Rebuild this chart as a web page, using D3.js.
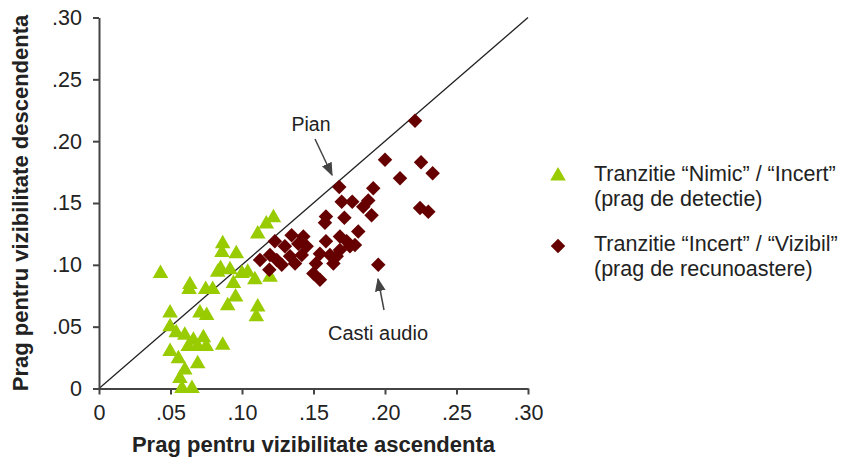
<!DOCTYPE html>
<html>
<head>
<meta charset="utf-8">
<title>Prag vizibilitate</title>
<script src="https://d3js.org/d3.v7.min.js"></script>
<style>
  body { margin: 0; background: #fff; }
  svg text { font-family: "Liberation Sans", Arial, sans-serif; fill: #222; }
</style>
</head>
<body>
<script>
// ticks shared by both axes
const tickValues = [0, 0.05, 0.10, 0.15, 0.20, 0.25, 0.30];

// "Nimic" / "Incert" transition (detection threshold)
const greenX = [.043, .0865, .086, .096, .111, .117, .122, .0636, .063, .0746, .0795, .085, .083, .0916,
  .100, .104, .109, .094, .0955, .090, .111, .110, .0497, .0497, .0706, .0753, .054, .060, .066, .073,
  .069, .075, .0624, .0865, .0497, .0555, .069, .060, .0566, .058, .065, .1196];
const greenY = [.093, .117, .110, .109, .125, .133, .138, .084, .080, .080, .080, .097, .094, .096,
  .093, .094, .088, .085, .074, .067, .066, .058, .061, .050, .061, .059, .045, .043, .039, .041,
  .034, .034, .034, .035, .030, .024, .020, .015, .008, .000, .000, .090];

// "Incert" / "Vizibil" transition (recognition threshold)
const redX = [.221, .200, .2252, .2333, .2105, .168, .1918, .1697, .1771, .1883, .1848, .2245, .2303,
  .1587, .158, .1716, .1906, .1813, .1685, .1732, .179, .1587, .1429, .1347, .123, .1394, .130, .1452,
  .1126, .1196, .1243, .1278, .1336, .1371, .1418, .1191, .1545, .1517, .1499, .1545, .1615, .1662,
  .1639, .1685, .1755, .1953];
const redY = [.2165, .185, .183, .174, .170, .163, .162, .151, .151, .152, .147, .146, .143,
  .139, .134, .138, .140, .127, .123, .119, .116, .119, .123, .124, .119, .117, .115, .115,
  .104, .108, .104, .100, .107, .101, .108, .096, .109, .101, .093, .088, .108, .107,
  .101, .112, .115, .100];

const legendLabels = [
  ["Tranzitie \u201cNimic\u201d / \u201cIncert\u201d", "(prag de detectie)"],
  ["Tranzitie \u201cIncert\u201d / \u201cVizibil\u201d", "(prag de recunoastere)"]
];

const w = 845, h = 458;
const green = "#99cc00", red = "#660000", axisColor = "#444";

const svg = d3.select("body").append("svg").attr("width", w).attr("height", h);

const xScale = d3.scaleLinear().domain([0, 0.30]).range([99, 528]);
const yScale = d3.scaleLinear().domain([0, 0.30]).range([388.5, 17.5]);

const fmt = (d) => d === 0 ? "0" : d3.format(".2f")(d).replace(/^0/, "");

// diagonal y = x
svg.append("line")
  .attr("x1", xScale(0)).attr("y1", yScale(0))
  .attr("x2", xScale(0.30)).attr("y2", yScale(0.30))
  .attr("stroke", "#222").attr("stroke-width", 1.3);

const xAxis = d3.axisBottom(xScale).tickValues(tickValues).tickFormat(fmt).tickSize(6).tickPadding(10).tickSizeOuter(0);
const yAxis = d3.axisLeft(yScale).tickValues(tickValues).tickFormat(fmt).tickSize(6).tickPadding(11).tickSizeOuter(0);

const gx = svg.append("g").attr("transform", "translate(0," + yScale(0) + ")").call(xAxis);
const gy = svg.append("g").attr("transform", "translate(" + xScale(0) + ",0)").call(yAxis);
[gx, gy].forEach((g) => {
  g.select(".domain").attr("stroke", axisColor).attr("stroke-width", 2);
  g.selectAll(".tick line").attr("stroke", axisColor).attr("stroke-width", 2);
  g.selectAll(".tick text").attr("font-size", 21.5).attr("fill", "#222")
    .attr("font-family", "Liberation Sans, Arial, sans-serif");
});

// axis titles
svg.append("text").attr("x", 313.5).attr("y", 452).attr("text-anchor", "middle")
  .attr("font-size", 22).attr("font-weight", "bold")
  .text("Prag pentru vizibilitate ascendenta");
svg.append("text").attr("transform", "translate(28,203) rotate(-90)").attr("text-anchor", "middle")
  .attr("font-size", 22).attr("font-weight", "bold")
  .text("Prag pentru vizibilitate descendenta");

const tri = d3.symbol().type(d3.symbolTriangle).size(105);
const dia = d3.symbol().type(d3.symbolSquare).size(105);

svg.append("g").selectAll("path").data(greenX).enter().append("path")
  .attr("d", tri)
  .attr("transform", (d, i) => "translate(" + xScale(d) + "," + yScale(greenY[i]) + ")")
  .attr("fill", green);

svg.append("g").selectAll("path").data(redX).enter().append("path")
  .attr("d", dia)
  .attr("transform", (d, i) => "translate(" + xScale(d) + "," + yScale(redY[i]) + ") rotate(45)")
  .attr("fill", red);

// annotations
const defs = svg.append("defs");
defs.append("marker").attr("id", "arr").attr("viewBox", "0 0 10 10").attr("refX", 9).attr("refY", 5)
  .attr("markerWidth", 9).attr("markerHeight", 9).attr("orient", "auto")
  .append("path").attr("d", "M0,1 L10,5 L0,9 Z").attr("fill", "#444");

svg.append("text").attr("x", 311).attr("y", 131).attr("text-anchor", "middle").attr("font-size", 19.5).text("Pian");
svg.append("line").attr("x1", 315).attr("y1", 139).attr("x2", 332).attr("y2", 175)
  .attr("stroke", "#444").attr("stroke-width", 1.5).attr("marker-end", "url(#arr)");

svg.append("text").attr("x", 378).attr("y", 340).attr("text-anchor", "middle").attr("font-size", 20).text("Casti audio");
svg.append("line").attr("x1", 384).attr("y1", 310).attr("x2", 378).attr("y2", 279)
  .attr("stroke", "#444").attr("stroke-width", 1.5).attr("marker-end", "url(#arr)");

// legend
const legend = svg.append("g");
legend.append("path").attr("d", tri).attr("transform", "translate(558,176)").attr("fill", green);
legend.append("path").attr("d", dia).attr("transform", "translate(558,246) rotate(45)").attr("fill", red);
legendLabels.forEach((lines, i) => {
  lines.forEach((t, j) => {
    legend.append("text").attr("x", 594).attr("y", 181 + i * 70 + j * 25)
      .attr("font-size", 21.5).text(t);
  });
});
</script>
</body>
</html>
